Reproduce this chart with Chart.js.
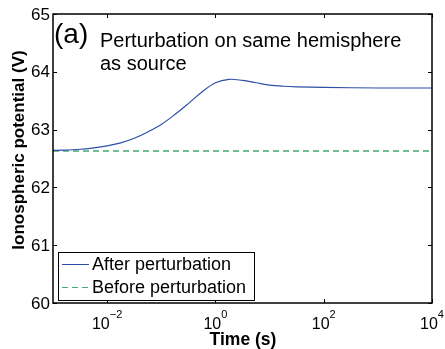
<!DOCTYPE html>
<html lang="en">
<head>
    <meta charset="UTF-8">
    <title>Ionospheric potential (a)</title>
    <script src="https://cdn.jsdelivr.net/npm/chart.js"></script>
    <style>
        body {
            margin: 0;
            background: white;
        }
        #wrap {
            width: 445px;
            height: 349px;
        }
    </style>
</head>
<body>
    <div id="wrap"><canvas id="chart" width="445" height="349"></canvas></div>

    <script>
        // values
        const times = [0.001, 0.00316, 0.01, 0.0178, 0.0316, 0.0562, 0.1, 0.178, 0.316, 0.562, 1, 1.78, 3.16, 5.62, 10, 17.8, 31.6, 100, 1000, 10000];
        const afterPert = [62.64, 62.66, 62.72, 62.77, 62.85, 62.96, 63.09, 63.26, 63.45, 63.65, 63.81, 63.87, 63.85, 63.81, 63.77, 63.75, 63.74, 63.73, 63.72, 63.72];
        const beforeTimes = [0.001, 10000];
        const beforePert = [62.63, 62.63];
        const yTicks = [60, 61, 62, 63, 64, 65];
        const xTickExp = [-2, 0, 2, 4];
        const seriesLabels = ['After perturbation', 'Before perturbation'];

        const FONT = '"Liberation Sans", Arial, sans-serif';
        const BLUE = '#2f4fa6';
        const GREEN = '#45a876';

        const axesPlugin = {
            id: 'matlabAxes',
            afterDraw(chart) {
                const ctx = chart.ctx;
                const a = chart.chartArea;
                const xs = chart.scales.x, ys = chart.scales.y;
                ctx.save();
                ctx.fillStyle = '#000';
                ctx.strokeStyle = '#000';
                ctx.lineWidth = 1;

                // inward ticks
                ctx.beginPath();
                yTicks.forEach(v => {
                    const py = Math.round(ys.getPixelForValue(v)) + 0.5;
                    ctx.moveTo(a.left, py); ctx.lineTo(a.left + 4, py);
                    ctx.moveTo(a.right, py); ctx.lineTo(a.right - 4, py);
                });
                xTickExp.forEach(e => {
                    const px = Math.round(xs.getPixelForValue(Math.pow(10, e))) + 0.5;
                    ctx.moveTo(px, a.bottom); ctx.lineTo(px, a.bottom - 4);
                    ctx.moveTo(px, a.top); ctx.lineTo(px, a.top + 4);
                });
                ctx.stroke();

                // box
                ctx.lineWidth = 1.5;
                ctx.strokeRect(a.left, a.top, a.right - a.left, a.bottom - a.top);

                // y tick labels
                ctx.font = '17px ' + FONT;
                ctx.textAlign = 'right';
                ctx.textBaseline = 'middle';
                yTicks.forEach(v => {
                    ctx.fillText(String(v), a.left - 3, ys.getPixelForValue(v) + 1);
                });

                // x tick labels with superscript
                xTickExp.forEach(e => {
                    const px = xs.getPixelForValue(Math.pow(10, e));
                    ctx.font = '16px ' + FONT;
                    const w1 = ctx.measureText('10').width;
                    ctx.font = '11px ' + FONT;
                    const sup = e < 0 ? '\u2212' + Math.abs(e) : String(e);
                    const w2 = ctx.measureText(sup).width;
                    const x0 = px - (w1 + w2) / 2;
                    ctx.textAlign = 'left';
                    ctx.textBaseline = 'alphabetic';
                    ctx.font = '16px ' + FONT;
                    ctx.fillText('10', x0, a.bottom + 26);
                    ctx.font = '11px ' + FONT;
                    ctx.fillText(sup, x0 + w1, a.bottom + 15);
                });

                // axis titles
                ctx.font = 'bold 17.5px ' + FONT;
                ctx.textAlign = 'center';
                ctx.textBaseline = 'alphabetic';
                ctx.fillText('Time (s)', 243, 345);
                ctx.font = 'bold 17px ' + FONT;
                ctx.save();
                ctx.translate(24, 150);
                ctx.rotate(-Math.PI / 2);
                ctx.fillText('Ionospheric potential (V)', 0, 0);
                ctx.restore();

                // panel annotation
                ctx.textAlign = 'left';
                ctx.font = '28px ' + FONT;
                ctx.fillText('(a)', a.left + 1, 43);
                ctx.font = '20px ' + FONT;
                ctx.fillText('Perturbation on same hemisphere', 100, 47);
                ctx.fillText('as source', 100, 70);

                // legend
                const lx = 58, ly = 252, lw = 196, lh = 48;
                ctx.fillStyle = '#fff';
                ctx.fillRect(lx, ly, lw, lh);
                ctx.lineWidth = 1;
                ctx.strokeStyle = '#000';
                ctx.strokeRect(lx + 0.5, ly + 0.5, lw, lh);
                const rows = [ly + 12, ly + 35];
                chart.data.datasets.forEach((ds, i) => {
                    ctx.strokeStyle = ds.borderColor;
                    ctx.setLineDash(ds.borderDash || []);
                    ctx.beginPath();
                    ctx.moveTo(lx + 4, rows[i] + 0.5);
                    ctx.lineTo(lx + 31, rows[i] + 0.5);
                    ctx.stroke();
                    ctx.setLineDash([]);
                    ctx.fillStyle = '#000';
                    ctx.font = '18px ' + FONT;
                    ctx.textBaseline = 'middle';
                    ctx.fillText(ds.label, lx + 34, rows[i] + 1);
                });
                ctx.restore();
            }
        };

        new Chart(document.getElementById('chart'), {
            type: 'line',
            data: {
                datasets: [
                    {
                        label: seriesLabels[0],
                        data: times.map((t, i) => ({ x: t, y: afterPert[i] })),
                        borderColor: BLUE,
                        borderWidth: 1.2,
                        pointRadius: 0,
                        tension: 0.35,
                        fill: false
                    },
                    {
                        label: seriesLabels[1],
                        data: beforeTimes.map((t, i) => ({ x: t, y: beforePert[i] })),
                        borderColor: GREEN,
                        borderWidth: 1.3,
                        borderDash: [6, 4],
                        pointRadius: 0,
                        fill: false
                    }
                ]
            },
            options: {
                responsive: false,
                animation: false,
                layout: { padding: { left: 53, top: 14, right: 13, bottom: 46 } },
                plugins: {
                    legend: { display: false },
                    tooltip: { enabled: false }
                },
                scales: {
                    x: { type: 'logarithmic', min: 0.001, max: 10000, display: false },
                    y: { type: 'linear', min: 60, max: 65, display: false }
                }
            },
            plugins: [axesPlugin]
        });
    </script>
</body>
</html>
